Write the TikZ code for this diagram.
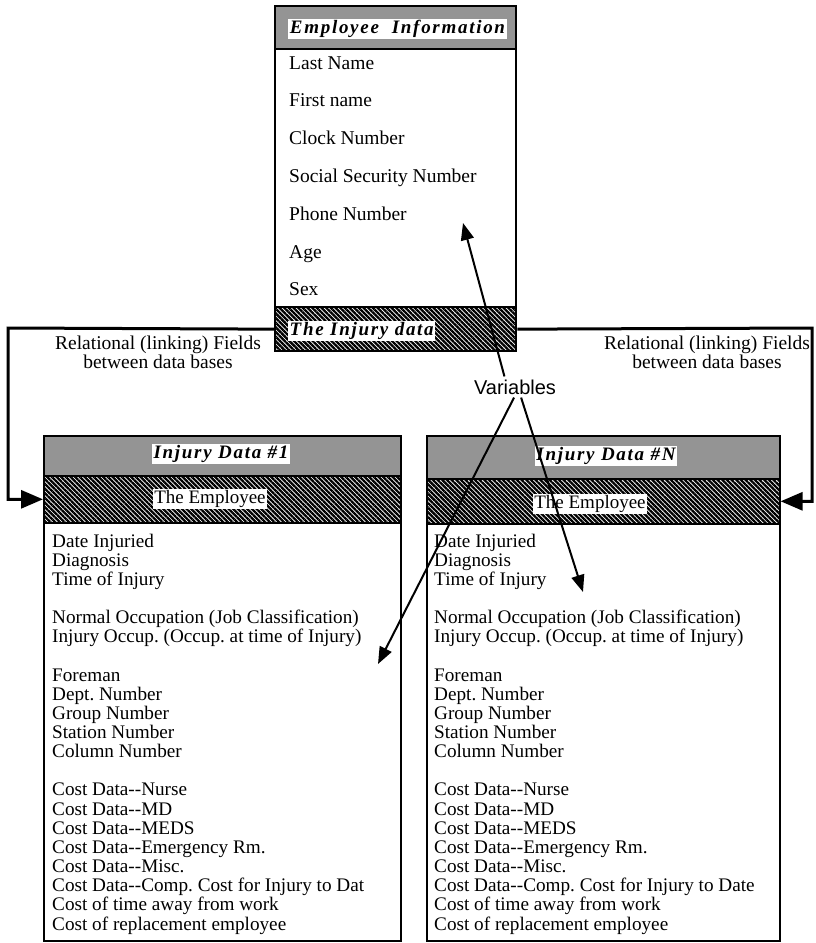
\documentclass[tikz,border=0pt]{standalone}
\usepackage{fontspec}
\setmainfont{Liberation Serif}
\newfontfamily\varfont{Liberation Sans}
\newfontfamily\headfont[LetterSpace=9]{Liberation Serif}
\usetikzlibrary{arrows.meta,patterns.meta,positioning}
\frenchspacing

\tikzset{
  box/.style={draw, line width=1.6pt, inner sep=0pt},
  dotband/.style={draw, line width=1.6pt, fill=black!42, inner sep=0pt, anchor=north west},
  hatchband/.style={draw, line width=1.6pt, inner sep=0pt, anchor=north west, fill=black!30,
    pattern={Lines[angle=-45,distance=3.3pt,line width=2.3pt]}},
  headtxt/.style={fill=white, inner sep=1.5pt, font=\fontsize{19}{19}\headfont\bfseries\itshape},
  bandtxt/.style={fill=white, inner sep=1.5pt, font=\fontsize{19}{19}\selectfont},
  rowtxt/.style={anchor=base west, inner sep=0pt, font=\fontsize{19.5}{19.5}\selectfont},
  bodytxt/.style={anchor=base west, inner sep=0pt, font=\fontsize{19.2}{19}\selectfont},
  note/.style={align=center, inner sep=0pt, font=\fontsize{19.5}{19}\selectfont},
  link/.style={line width=3pt, -{Triangle[length=22pt,width=18pt]}},
  varrow/.style={line width=2pt, -{Triangle[length=17pt,width=13pt]}}
}

\begin{document}
\begin{tikzpicture}[x=1pt,y=-1pt]
  \useasboundingbox (0,0) rectangle (815,943);

  % employee data base
  \node[box, minimum width=241pt, minimum height=345pt, anchor=north west] (empbox) at (274,5) {};
  \node[dotband, minimum width=241pt, minimum height=43pt] (emphead) at (274,5) {};
  \node[hatchband, minimum width=241pt, minimum height=44pt] (empband) at (274,306) {};
  \node[headtxt] (emptitle) at (397.5,29) {Employee~~Information};
  \node[headtxt, anchor=west] (injlink) at (288,331) {The Injury data};
  \foreach \txt [count=\i] in {Last Name, First name, Clock Number, Social Security Number,
      Phone Number, Age, Sex}
    \node[rowtxt] (row\i) at (289,{69+37.8*(\i-1)}) {\txt};

  % injury data bases
  \node[box, minimum width=357pt, minimum height=505pt, anchor=north west] (inj1) at (43,435) {};
  \node[dotband, minimum width=357pt, minimum height=40pt] (head1) at (43,435) {};
  \node[hatchband, minimum width=357pt, minimum height=47pt] (band1) at (43,475) {};
  \node[headtxt] (title1) at (221,454) {Injury Data \#1};
  \node[bandtxt] (emp1) at (210,499) {The Employee};

  \node[box, minimum width=353pt, minimum height=505pt, anchor=north west] (injN) at (426,435) {};
  \node[dotband, minimum width=353pt, minimum height=43pt] (headN) at (426,435) {};
  \node[hatchband, minimum width=353pt, minimum height=45pt] (bandN) at (426,478) {};
  \node[headtxt] (titleN) at (606,456) {Injury Data \#N};
  \node[bandtxt] (empN) at (590,504) {The Employee};

  \foreach \txt [count=\i] in {Date Injuried, Diagnosis, Time of Injury, {},
      {Normal Occupation (Job Classification)}, {Injury Occup. (Occup. at time of Injury)}, {},
      Foreman, Dept. Number, Group Number, Station Number, Column Number, {},
      Cost Data-{}-Nurse, Cost Data-{}-MD, Cost Data-{}-MEDS, Cost Data-{}-Emergency Rm.,
      Cost Data-{}-Misc., Cost Data-{}-Comp. Cost for Injury to Dat,
      Cost of time away from work, Cost of replacement employee}
    \node[bodytxt] (a\i) at (52,{547+19.15*(\i-1)}) {\txt};
  \foreach \txt [count=\i] in {Date Injuried, Diagnosis, Time of Injury, {},
      {Normal Occupation (Job Classification)}, {Injury Occup. (Occup. at time of Injury)}, {},
      Foreman, Dept. Number, Group Number, Station Number, Column Number, {},
      Cost Data-{}-Nurse, Cost Data-{}-MD, Cost Data-{}-MEDS, Cost Data-{}-Emergency Rm.,
      Cost Data-{}-Misc., Cost Data-{}-Comp. Cost for Injury to Date,
      Cost of time away from work, Cost of replacement employee}
    \node[bodytxt] (b\i) at (434,{547+19.15*(\i-1)}) {\txt};

  % relational links
  \node[note] (relL) at (158,352) {Relational (linking) Fields\\between data bases};
  \node[note] (relR) at (707,352) {Relational (linking) Fields\\between data bases};
  \coordinate (lcorner) at (8,328);
  \coordinate (rcorner) at (812,328);
  \draw[link] (empband.west) -- (lcorner) |- (band1.west);
  \draw[link] (empband.east) -- (rcorner) |- (bandN.east);

  % variables
  \node[font=\fontsize{20}{20}\varfont, inner sep=3pt] (vars) at (515,387) {Variables};
  \coordinate (phonetip) at (463,223);
  \coordinate (occtip) at (378,664);
  \coordinate (timetip) at (583,592);
  \draw[varrow] (vars.135) -- (phonetip);
  \draw[varrow] (vars.265) -- (occtip);
  \draw[varrow] (vars.300) -- (timetip);
\end{tikzpicture}
\end{document}
